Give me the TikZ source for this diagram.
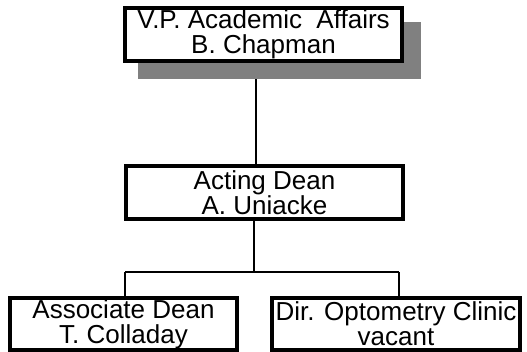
\documentclass[tikz,border=0pt]{standalone}
\usepackage{fontspec}
\setmainfont{Liberation Sans}
\begin{document}
\begin{tikzpicture}[x=1pt,y=1pt,
  box/.style={draw=black,line width=3.3pt,fill=white,inner sep=0pt,align=center,
    font=\fontsize{26}{25}\selectfont},
  link/.style={draw=black,line width=2.4pt},
  shadowbox/.style={fill=black!50,draw=none}]
\useasboundingbox (0,0) rectangle (527,-352);
% nodes
\node[box,minimum width=277pt,minimum height=53pt] (top) at (263.5,-34.5) {V.P. Academic~ Affairs\\B. Chapman};
\node[box,minimum width=277pt,minimum height=53pt] (mid) at (264.5,-192.5) {Acting Dean\\A. Uniacke};
\node[box,minimum width=227pt,minimum height=52pt] (ad) at (123.5,-324) {Associate Dean\\T. Colladay};
\node[box,minimum width=248pt,minimum height=52pt] (dir) at (396,-324) {Dir. Optometry Clinic\\vacant};
\coordinate (v) at (256,0);
\coordinate (j) at (254,-272);
\coordinate (l) at (125,-272);
\coordinate (r) at (399,-272);
% connectors
\draw[link] (top.south -| v) -- (mid.north -| v);
\draw[link] (mid.south -| j) -- (j);
\draw[link] (l) -- (r);
\draw[link] (l) -- (ad.north -| l);
\draw[link] (r) -- (dir.north -| r);
% shadow and top box redrawn above the connector
\path[shadowbox] ([xshift=15pt,yshift=-16pt]top.south west) rectangle ([xshift=17pt,yshift=-16pt]top.north east);
\node[box,minimum width=277pt,minimum height=53pt] at (top) {V.P. Academic~ Affairs\\B. Chapman};
\end{tikzpicture}
\end{document}
